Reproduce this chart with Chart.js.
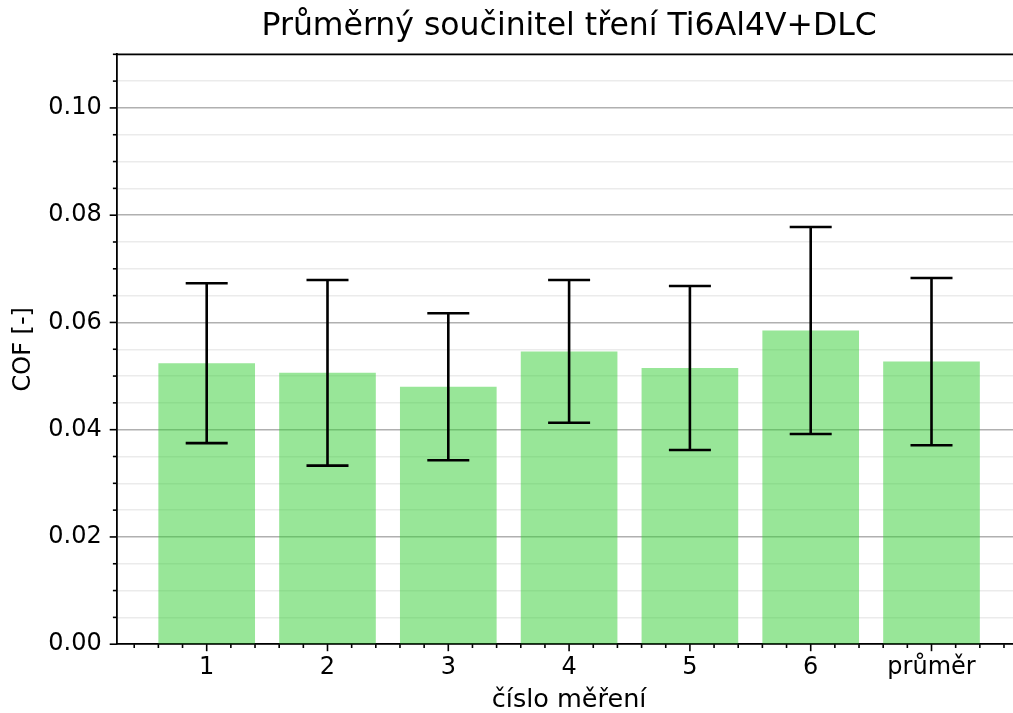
<!DOCTYPE html>
<html><head><meta charset="utf-8">
<script src="https://cdn.jsdelivr.net/npm/chart.js@4"></script>
<style>html,body{margin:0;padding:0;overflow:hidden;background:#fff}</style>
</head><body>
<canvas id="c" width="1138" height="720"></canvas>
<script>
const categories = ['1', '2', '3', '4', '5', '6', 'průměr'];
const meanCOF = [0.0524, 0.0506, 0.0480, 0.0546, 0.0515, 0.0585, 0.0527];
const stdCOF  = [0.0149, 0.0173, 0.0137, 0.0133, 0.0153, 0.0193, 0.0156];
const yTickLabels = ['0.00', '0.02', '0.04', '0.06', '0.08', '0.10'];
const titleText = 'Průměrný součinitel tření Ti6Al4V+DLC';
const xTitle = 'číslo měření';
const yTitle = 'COF [-]';

const FONT = "'DejaVu Sans', sans-serif";
const isMajorY = v => Math.round(v * 1000) % 20 === 0;
const labelForY = v => isMajorY(v) ? (yTickLabels[Math.round(v * 1000) / 20] ?? '') : '';

const decor = {
  id: 'decor',
  afterDatasetsDraw(chart) {
    const {ctx, scales: {x, y}} = chart;
    ctx.save();
    ctx.strokeStyle = '#000';
    ctx.lineWidth = 2.6;
    meanCOF.forEach((m, i) => {
      const px = x.getPixelForValue(i + 1);
      const top = y.getPixelForValue(m + stdCOF[i]);
      const bot = y.getPixelForValue(m - stdCOF[i]);
      ctx.beginPath();
      ctx.moveTo(px, top); ctx.lineTo(px, bot);
      ctx.moveTo(px - 21, top); ctx.lineTo(px + 21, top);
      ctx.moveTo(px - 21, bot); ctx.lineTo(px + 21, bot);
      ctx.stroke();
    });
    ctx.restore();
  },
  afterDraw(chart) {
    const {ctx, chartArea: a, scales: {x, y}} = chart;
    ctx.save();
    ctx.strokeStyle = '#000';
    ctx.lineWidth = 1.8;
    ctx.beginPath();
    ctx.moveTo(a.left - 0.9, a.top); ctx.lineTo(a.right, a.top);
    ctx.stroke();
    ctx.lineWidth = 1.6;
    y.ticks.forEach(t => {
      const py = y.getPixelForValue(t.value);
      ctx.beginPath();
      ctx.moveTo(a.left, py);
      ctx.lineTo(a.left - (isMajorY(t.value) ? 7 : 3.8), py);
      ctx.stroke();
    });
    for (let k = Math.ceil(x.min * 5); k <= Math.floor(x.max * 5); k++) {
      const px = x.getPixelForValue(k / 5);
      ctx.beginPath();
      ctx.moveTo(px, a.bottom);
      ctx.lineTo(px, a.bottom + (k % 5 === 0 ? 7 : 3.8));
      ctx.stroke();
    }
    ctx.restore();
  }
};

new Chart(document.getElementById('c'), {
  type: 'bar',
  data: {
    labels: categories,
    datasets: [{
      data: meanCOF.map((v, i) => ({x: i + 1, y: v})),
      backgroundColor: 'rgba(50,205,50,0.5)',
      borderWidth: 0,
      barPercentage: 0.8,
      categoryPercentage: 1.0
    }]
  },
  options: {
    responsive: false,
    animation: false,
    layout: {padding: {left: 0, right: 116.5, top: 0, bottom: 0}},
    plugins: {
      legend: {display: false},
      tooltip: {enabled: false},
      title: {
        display: true, text: titleText, color: '#000', fullSize: false,
        font: {family: FONT, size: 31.5, weight: 'normal', lineHeight: 1.2},
        padding: {top: 7.5, bottom: 9.0}
      }
    },
    scales: {
      x: {
        type: 'linear', min: 0.255, max: 7.745, offset: false,
        grid: {display: false, drawTicks: false},
        border: {display: true, color: '#000', width: 1.8},
        ticks: {
          stepSize: 1, includeBounds: false, autoSkip: false, maxRotation: 0,
          padding: 9, color: '#000',
          font: {family: FONT, size: 24, lineHeight: 1.2},
          callback: v => categories[Math.round(v) - 1] ?? ''
        },
        title: {
          display: true, text: xTitle, color: '#000',
          font: {family: FONT, size: 25.5, lineHeight: 1.2},
          padding: {top: 0, bottom: 4.2}
        },
        afterFit: s => { s.height = 720 - 644.2; }
      },
      y: {
        min: 0, max: 0.11,
        grid: {
          drawTicks: false,
          color: c => isMajorY(c.tick.value) ? '#b0b0b0' : '#ebebeb',
          lineWidth: 1.5
        },
        border: {display: true, color: '#000', width: 1.8},
        ticks: {
          stepSize: 0.005, autoSkip: false, padding: 15, color: '#000',
          font: {family: FONT, size: 24, lineHeight: 1.2},
          callback: v => labelForY(v)
        },
        title: {
          display: true, text: yTitle, color: '#000',
          font: {family: FONT, size: 24, lineHeight: 1.2},
          padding: {top: 9.6, bottom: 0}
        },
        afterFit: s => { s.width = 116.7; }
      }
    }
  },
  plugins: [decor]
});
</script>
</body></html>
